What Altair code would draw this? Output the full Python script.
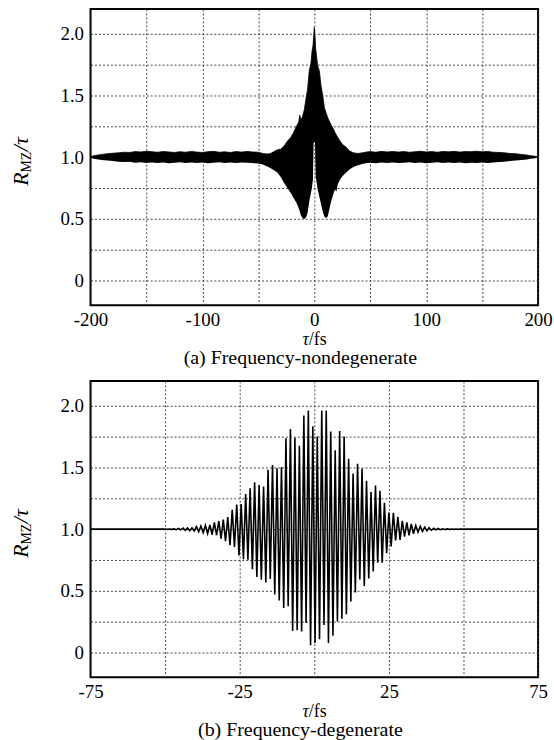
import altair as alt
import numpy as np
import pandas as pd

FONT = "Liberation Serif"

tau_a = [-200, -197, -193, -190, -185, -180, -175, -170, -165, -160, -155, -150, -145, -140, -135,
         -130, -125, -120, -115, -110, -105, -100, -95, -90, -85, -80, -75, -70, -65, -60, -55, -50,
         -46, -42, -39, -36, -33, -30, -27, -24, -21, -18.5, -16, -14, -13, -12, -10.5, -9, -7.5, -6,
         -4.5, -3, -2, -1.2, -0.6, 0, 0.6, 1.2, 2, 3, 4.5, 6, 7.5, 9, 10.5, 12, 13.5, 15, 17, 18.5,
         19.7, 21, 23, 25.5, 28.5, 31.5, 35, 39, 43, 47, 50, 55, 60, 65, 70, 75, 80, 85, 90, 95, 100,
         105, 110, 115, 120, 125, 130, 135, 140, 145, 150, 155, 160, 165, 170, 175, 180, 185, 190,
         193, 197, 200]
upper_a = [1.005, 1.012, 1.018, 1.022, 1.028, 1.032, 1.035, 1.040, 1.038, 1.045, 1.042, 1.048, 1.044,
           1.040, 1.046, 1.042, 1.038, 1.044, 1.040, 1.046, 1.041, 1.038, 1.044, 1.047, 1.040, 1.043,
           1.038, 1.045, 1.041, 1.046, 1.042, 1.040,
           1.030, 1.025, 1.030, 1.045, 1.060, 1.065, 1.090, 1.130, 1.160, 1.200, 1.250, 1.280, 1.340,
           1.300, 1.330, 1.380, 1.470, 1.550, 1.700, 1.760, 1.860, 1.900, 1.970, 2.050, 1.980, 1.880,
           1.820, 1.740, 1.700, 1.580, 1.500, 1.400, 1.360, 1.320, 1.290, 1.260, 1.230, 1.200, 1.180,
           1.160, 1.130, 1.100, 1.080, 1.050, 1.035, 1.030, 1.035, 1.042, 1.045, 1.040, 1.047, 1.042,
           1.046, 1.041, 1.045, 1.040, 1.044, 1.048, 1.042, 1.045, 1.040, 1.046, 1.043, 1.047, 1.041,
           1.045, 1.044, 1.048, 1.043, 1.046, 1.040, 1.038, 1.035, 1.030, 1.028, 1.022, 1.017, 1.012,
           1.008, 1.003]
lower_a = [0.995, 0.988, 0.982, 0.978, 0.972, 0.968, 0.963, 0.960, 0.962, 0.955, 0.958, 0.952, 0.957,
           0.953, 0.956, 0.951, 0.955, 0.958, 0.952, 0.956, 0.953, 0.957, 0.951, 0.955, 0.958, 0.952,
           0.956, 0.953, 0.957, 0.955, 0.952, 0.948,
           0.940, 0.925, 0.910, 0.895, 0.875, 0.840, 0.790, 0.750, 0.710, 0.670, 0.630, 0.590, 0.560,
           0.530, 0.505, 0.500, 0.510, 0.550, 0.640, 0.710, 0.760, 0.820, 1.120, 1.120, 1.120, 0.840,
           0.800, 0.740, 0.680, 0.620, 0.560, 0.520, 0.505, 0.520, 0.580, 0.640, 0.700, 0.740, 0.720,
           0.780, 0.820, 0.850, 0.875, 0.900, 0.920, 0.935, 0.945, 0.952, 0.955, 0.951, 0.956, 0.953,
           0.957, 0.952, 0.955, 0.958, 0.953, 0.956, 0.951, 0.955, 0.958, 0.952, 0.956, 0.953, 0.957,
           0.951, 0.955, 0.953, 0.956, 0.952, 0.957, 0.960, 0.963, 0.968, 0.972, 0.977, 0.982, 0.987,
           0.992, 0.997]

tau_b = [-75.0] + [round(v, 2) for v in np.arange(-50, 50, 0.75)] + [50.0, 75.0]
r_b = [1.000,
       1.000, 0.999, 1.001, 0.998, 1.002, 0.996, 1.005, 0.994, 1.008, 0.990,
       1.009, 0.988, 1.011, 0.985, 1.020, 0.980, 1.025, 0.971, 1.030, 0.963,
       1.034, 0.955, 1.054, 0.952, 1.065, 0.924, 1.077, 0.902, 1.098, 0.870,
       1.157, 0.856, 1.200, 0.787, 1.204, 0.757, 1.284, 0.752, 1.330, 0.675,
       1.380, 0.612, 1.357, 0.591, 1.345, 0.568, 1.480, 0.596, 1.520, 0.471,
       1.493, 0.423, 1.503, 0.361, 1.735, 0.376, 1.810, 0.176, 1.740, 0.182,
       1.675, 0.172, 1.921, 0.240, 1.960, 0.059, 1.833, 0.079, 1.750, 0.109,
       1.960, 0.224, 1.960, 0.079, 1.791, 0.137, 1.638, 0.253, 1.794, 0.274,
       1.750, 0.311, 1.570, 0.414, 1.450, 0.487, 1.529, 0.592, 1.490, 0.539,
       1.391, 0.600, 1.300, 0.658, 1.353, 0.728, 1.310, 0.728, 1.213, 0.805,
       1.135, 0.860, 1.132, 0.908, 1.100, 0.913, 1.068, 0.939, 1.055, 0.949,
       1.042, 0.963, 1.030, 0.975, 1.023, 0.982, 1.016, 0.987, 1.011, 0.991,
       1.007, 0.994, 1.005, 0.996, 1.003, 0.997, 1.002, 0.998, 1.001, 0.999,
       1.001, 0.999, 1.000, 1.000,
       1.000, 1.000]

y_ticks = [0, 0.25, 0.5, 0.75, 1.0, 1.25, 1.5, 1.75, 2.0]
x_ticks_a = [-200, -150, -100, -50, 0, 50, 100, 150, 200]
x_ticks_b = [-75, -50, -25, 0, 25, 50, 75]

caption_a = "(a) Frequency-nondegenerate"
caption_b = "(b) Frequency-degenerate"

W, H = 450, 298
one = pd.DataFrame({"k": [0]})

Y_LABELS = "datum.value == 0 ? '0' : (datum.value % 0.5 == 0 ? format(datum.value, '.1f') : '')"

AXIS_STYLE = dict(
    domain=False, ticks=False, grid=True,
    gridColor="#333333", gridDash=[2, 2], gridWidth=0.9, gridOpacity=1,
    labelFont=FONT, labelFontSize=19, labelColor="black",
    labelOverlap=False, labelFlush=False, labelBound=False, title=None,
)


def y_enc(field):
    return alt.Y(field, type="quantitative",
                 scale=alt.Scale(domain=[-0.2, 2.2], nice=False, zero=False),
                 axis=alt.Axis(values=y_ticks, labelExpr=Y_LABELS, labelPadding=7, **AXIS_STYLE))


def x_enc(field, domain, ticks, expr):
    return alt.X(field, type="quantitative",
                 scale=alt.Scale(domain=domain, nice=False, zero=False),
                 axis=alt.Axis(values=ticks, labelExpr=expr, labelPadding=5, **AXIS_STYLE))


def text_layers(caption):
    def t(txt, x, y, size, italic=False, angle=None, align="center"):
        kw = dict(text=txt, font=FONT, fontSize=size, color="black", align=align, baseline="middle")
        if italic:
            kw["fontStyle"] = "italic"
        if angle is not None:
            kw["angle"] = angle
        return alt.Chart(one).mark_text(**kw).encode(x=alt.value(x), y=alt.value(y))
    return [
        t("R", -70, 171, 22, italic=True, angle=270),
        t("MZ", -64, 154, 14, angle=270),
        t("/τ", -70, 136, 22, italic=True, angle=270),
        t("τ", 219.5, 333, 18, italic=True, align="right"),
        t("/fs", 219.5, 333, 18, align="left"),
        t(caption, 211, 350.5, 20),
    ]


df_a = pd.DataFrame({"tau": tau_a, "up": upper_a, "lo": lower_a})
band = alt.Chart(df_a).mark_area(color="black", opacity=1,
                                 line={"color": "black", "strokeWidth": 0.8}).encode(
    x=x_enc("tau", [-200, 200], x_ticks_a, "datum.value % 100 == 0 ? '' + datum.value : ''"),
    y=y_enc("up"),
    y2="lo",
)
panel_a = alt.layer(band, *text_layers(caption_a)).properties(width=W, height=H)

df_b = pd.DataFrame({"tau": tau_b, "r": r_b})
osc = alt.Chart(df_b).mark_line(color="black", strokeWidth=1.6).encode(
    x=x_enc("tau", [-75, 75], x_ticks_b,
            "(abs(datum.value) == 25 || abs(datum.value) == 75) ? '' + datum.value : ''"),
    y=y_enc("r"),
    order=alt.Order("tau:Q"),
)
panel_b = alt.layer(osc, *text_layers(caption_b)).properties(width=W, height=H)

chart = alt.vconcat(panel_a, panel_b, spacing=11).properties(
    padding={"left": 9, "top": 6, "right": 0, "bottom": 0},
    background="white",
).configure(
    font=FONT
).configure_axis(
    labelFont=FONT
).configure_view(
    stroke="black", strokeWidth=2
)

chart.save("out.html", embed_options={"renderer": "svg", "actions": False})
